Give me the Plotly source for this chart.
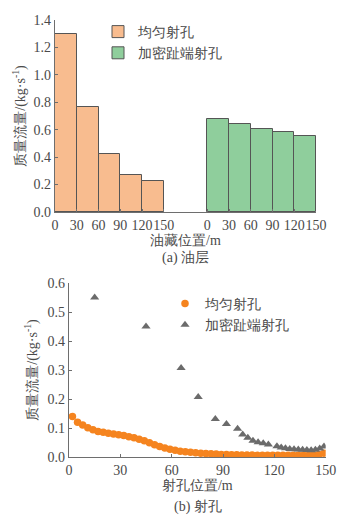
import plotly.graph_objects as go

# ---- panel (a): reservoir inflow per 30 m segment ----
seg_labels = ["0", "30", "60", "90", "120", "150"]
seg_centers = [15, 45, 75, 105, 135]
uniform_seg = [1.30, 0.763, 0.42, 0.27, 0.224]
dense_seg = [0.68, 0.644, 0.608, 0.586, 0.554]
group_offset = 210  # second group drawn after a gap on the same axis

# ---- panel (b): flow per perforation ----
uniform_x = [2, 5, 8, 11, 14, 17, 20, 23, 26, 29, 32, 35, 38, 41, 44, 47, 50, 53, 56, 59,
             62, 65, 68, 71, 74, 77, 80, 83, 86, 89, 92, 95, 98, 101, 104, 107, 110, 113,
             116, 119, 122, 125, 128, 131, 134, 137, 140, 143, 146, 149]
uniform_q = [0.140, 0.120, 0.110, 0.101, 0.094, 0.088, 0.085, 0.082, 0.079, 0.077,
             0.074, 0.070, 0.066, 0.061, 0.056, 0.049, 0.042, 0.036, 0.031, 0.027,
             0.023, 0.020, 0.018, 0.016, 0.015, 0.013, 0.012, 0.011, 0.010, 0.009,
             0.009, 0.008, 0.008, 0.007, 0.007, 0.007, 0.006, 0.006, 0.006, 0.006,
             0.006, 0.006, 0.006, 0.006, 0.006, 0.006, 0.006, 0.007, 0.009, 0.013]
dense_x = [15, 45, 65.5, 75.5, 85.5, 92, 98.5, 101.5, 104.5, 107.5, 110.5, 113.5, 116.5,
           121.5, 124, 126.5, 129, 131.5, 134, 136.5, 139, 141.5, 144, 146.5, 149]
dense_q = [0.550, 0.450, 0.307, 0.207, 0.131, 0.114, 0.097, 0.078, 0.066, 0.056, 0.051,
           0.047, 0.043, 0.037, 0.033, 0.030, 0.028, 0.027, 0.026, 0.025, 0.024, 0.023,
           0.025, 0.029, 0.036]

W, H = 347, 520
ORANGE_BAR = "#F8BC8F"
GREEN_BAR = "#8FCE9C"
ORANGE = "#F5841F"
GREY = "#6B6B6B"
TXT = "#4A4A4A"
AX = "#6E6E6E"
FONT = "Liberation Serif"
FS = 14

fig = go.Figure()

fig.add_trace(go.Bar(
    x=seg_centers, y=uniform_seg, width=30, name="均匀射孔",
    marker=dict(color=ORANGE_BAR, line=dict(color="#555555", width=1)),
    xaxis="x", yaxis="y", legend="legend"))
fig.add_trace(go.Bar(
    x=[c + group_offset for c in seg_centers], y=dense_seg, width=30, name="加密趾端射孔",
    marker=dict(color=GREEN_BAR, line=dict(color="#555555", width=1)),
    xaxis="x", yaxis="y", legend="legend"))

fig.add_trace(go.Scatter(
    x=uniform_x, y=uniform_q, mode="markers", name="均匀射孔",
    marker=dict(symbol="circle", size=7.5, color=ORANGE),
    xaxis="x2", yaxis="y2", legend="legend2"))
fig.add_trace(go.Scatter(
    x=dense_x, y=dense_q, mode="markers", name="加密趾端射孔",
    marker=dict(symbol="triangle-up", size=8, color=GREY),
    xaxis="x2", yaxis="y2", legend="legend2"))

seg_ticks = [i * 30 for i in range(6)] + [group_offset + i * 30 for i in range(6)]

txt_font = dict(family=FONT, size=FS, color=TXT)
axis_common = dict(showline=True, linecolor=AX, linewidth=1.2, ticks="inside",
                   ticklen=3, tickcolor=AX, showgrid=False, zeroline=False,
                   tickfont=txt_font, automargin=False, tickangle=0)


def px_x(p):
    return p / W


def px_y(p):
    return 1 - p / H


fig.update_layout(
    width=W, height=H, margin=dict(l=0, r=0, t=0, b=0),
    paper_bgcolor="white", plot_bgcolor="white",
    font=txt_font,
    bargap=0,
    xaxis=dict(domain=[px_x(55), px_x(316)], range=[0, 360], tickvals=seg_ticks,
               ticktext=seg_labels * 2, anchor="y",
               title=dict(text="油藏位置/m", font=txt_font, standoff=2), **axis_common),
    yaxis=dict(domain=[px_y(212), px_y(20)], range=[0, 1.4], dtick=0.2,
               tickformat=".1f", anchor="x",
               title=dict(text="质量流量/(kg·s<sup>-1</sup>)", font=txt_font, standoff=4),
               **axis_common),
    xaxis2=dict(domain=[px_x(69), px_x(325.7)], range=[0, 150], dtick=30, anchor="y2",
                title=dict(text="射孔位置/m", font=txt_font, standoff=0), **axis_common),
    yaxis2=dict(domain=[px_y(457), px_y(283)], range=[0, 0.6], dtick=0.1,
                tickformat=".1f", anchor="x2",
                title=dict(text="质量流量/(kg·s<sup>-1</sup>)", font=txt_font, standoff=6),
                **axis_common),
    legend=dict(x=px_x(98), y=px_y(16), xanchor="left", yanchor="top",
                bgcolor="rgba(0,0,0,0)", font=txt_font,
                itemwidth=30, tracegroupgap=0),
    legend2=dict(x=px_x(165), y=px_y(288), xanchor="left", yanchor="top",
                 bgcolor="rgba(0,0,0,0)", font=txt_font,
                 itemwidth=30, tracegroupgap=0),
    annotations=[
        dict(text="(a) 油层", x=px_x(185), y=px_y(258), xref="paper", yref="paper",
             xanchor="center", yanchor="middle", showarrow=False, font=txt_font),
        dict(text="(b) 射孔", x=px_x(198), y=px_y(507), xref="paper", yref="paper",
             xanchor="center", yanchor="middle", showarrow=False, font=txt_font),
    ],
)

fig.write_html("out.html")
